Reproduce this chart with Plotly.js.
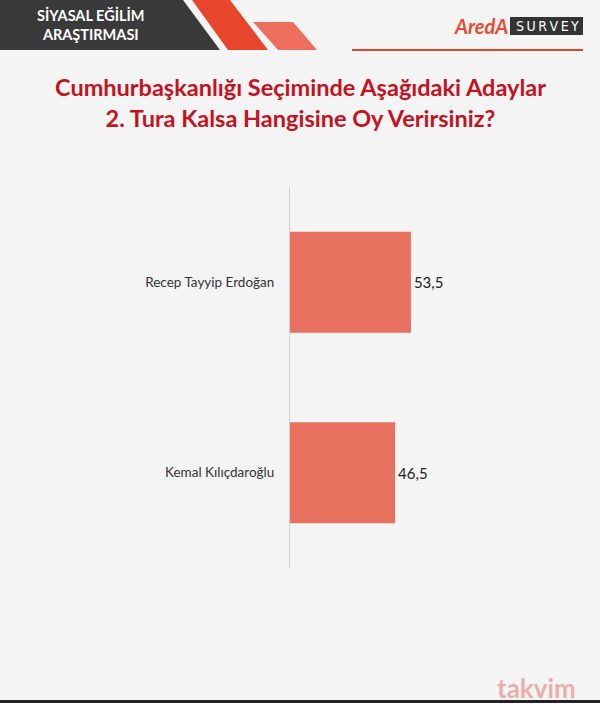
<!DOCTYPE html>
<html>
<head>
<meta charset="utf-8">
<script src="https://cdn.plot.ly/plotly-3.0.1.min.js"></script>
<style>
html,body{margin:0;padding:0;background:#f4f4f4;}
#chart{width:600px;height:703px;}
</style>
</head>
<body>
<div id="chart"></div>
<script>
const candidates = ["Recep Tayyip Erdoğan", "Kemal Kılıçdaroğlu"];
const votes = [53.5, 46.5];
const titleLines = ["Cumhurbaşkanlığı Seçiminde Aşağıdaki Adaylar", "2. Tura Kalsa Hangisine Oy Verirsiniz?"];
const headerLines = ["SİYASAL EĞİLİM", "ARAŞTIRMASI"];

const W = 600, H = 703;
const L = 290, R = 84, T = 187, B = 135;
const PW = W - L - R, PH = H - T - B;
const px = x => (x - L) / PW;
const py = y => (H - B - y) / PH;
function poly(pts) {
  return 'M ' + pts.map(p => px(p[0]) + ',' + py(p[1])).join(' L ') + ' Z';
}

const shapes = [
  {type:'path', xref:'paper', yref:'paper', path: poly([[0,0],[183,0],[220,50],[0,50]]), fillcolor:'#3a3a3a', line:{width:0}, layer:'below'},
  {type:'path', xref:'paper', yref:'paper', path: poly([[192,0],[230,0],[268,50],[228,50]]), fillcolor:'#e8462c', line:{width:0}, layer:'below'},
  {type:'path', xref:'paper', yref:'paper', path: poly([[253,22],[293,22],[317,50],[278,50]]), fillcolor:'#ee6e5e', line:{width:0}, layer:'below'},
  {type:'line', xref:'paper', yref:'paper', x0:px(352), x1:px(583), y0:py(50), y1:py(50), line:{color:'#e0452c', width:2}},
  {type:'rect', xref:'paper', yref:'paper', x0:px(510), x1:px(583), y0:py(35), y1:py(17), fillcolor:'#333333', line:{width:0}},
  {type:'rect', xref:'paper', yref:'paper', x0:px(0), x1:px(600), y0:py(700), y1:py(703), fillcolor:'#222222', line:{width:0}}
];

const annotations = [
  {xref:'paper', yref:'paper', x:px(91), y:py(24), text:headerLines.join('<br>'), showarrow:false, xanchor:'center', yanchor:'middle', font:{family:'Lato', size:14.5, color:'#ffffff', weight:700}},
  {xref:'paper', yref:'paper', x:px(510), y:py(26), text:'<b><i>AredA</i></b>', showarrow:false, xanchor:'right', yanchor:'middle', font:{family:'Lato', size:20, color:'#e84a36'}},
  {xref:'paper', yref:'paper', x:px(547), y:py(26), text:'S\u2009U\u2009R\u2009V\u2009E\u2009Y', showarrow:false, xanchor:'center', yanchor:'middle', font:{family:'DejaVu Sans Condensed', size:14, color:'#ffffff'}},
  {xref:'paper', yref:'paper', x:px(300), y:py(102), text:titleLines.join('<br>'), showarrow:false, xanchor:'center', yanchor:'middle', font:{family:'Lato', size:23.5, color:'#c4121f', weight:700}},
  {xref:'paper', yref:'paper', x:px(578), y:py(688), text:'<b>takvim</b>', showarrow:false, xanchor:'right', yanchor:'middle', font:{family:'Lato', size:26, color:'rgba(232,110,110,0.55)'}}
];

const trace = {
  type:'bar', orientation:'h',
  y: candidates, x: votes,
  width: 0.53,
  marker:{color:'#e8705f'},
  texttemplate:'%{x:.1f}', textposition:'outside', cliponaxis:false,
  textfont:{family:'Lato', size:15, color:'#222222'},
  hoverinfo:'none'
};

const layout = {
  width:W, height:H,
  margin:{l:L, r:R, t:T, b:B, pad:0},
  paper_bgcolor:'#f4f4f4', plot_bgcolor:'rgba(0,0,0,0)',
  separators:',.',
  showlegend:false,
  xaxis:{range:[0,100], visible:false, fixedrange:true},
  yaxis:{autorange:'reversed', range:[1.5,-0.5], showgrid:false, zeroline:false,
         showline:true, linecolor:'#d0d0d0', linewidth:1,
         ticks:'outside', ticklen:12, tickcolor:'rgba(0,0,0,0)',
         tickfont:{family:'Lato', size:13.5, color:'#333333'}, fixedrange:true},
  shapes:shapes, annotations:annotations
};

Plotly.newPlot('chart', [trace], layout, {displayModeBar:false, staticPlot:true});
</script>
</body>
</html>
